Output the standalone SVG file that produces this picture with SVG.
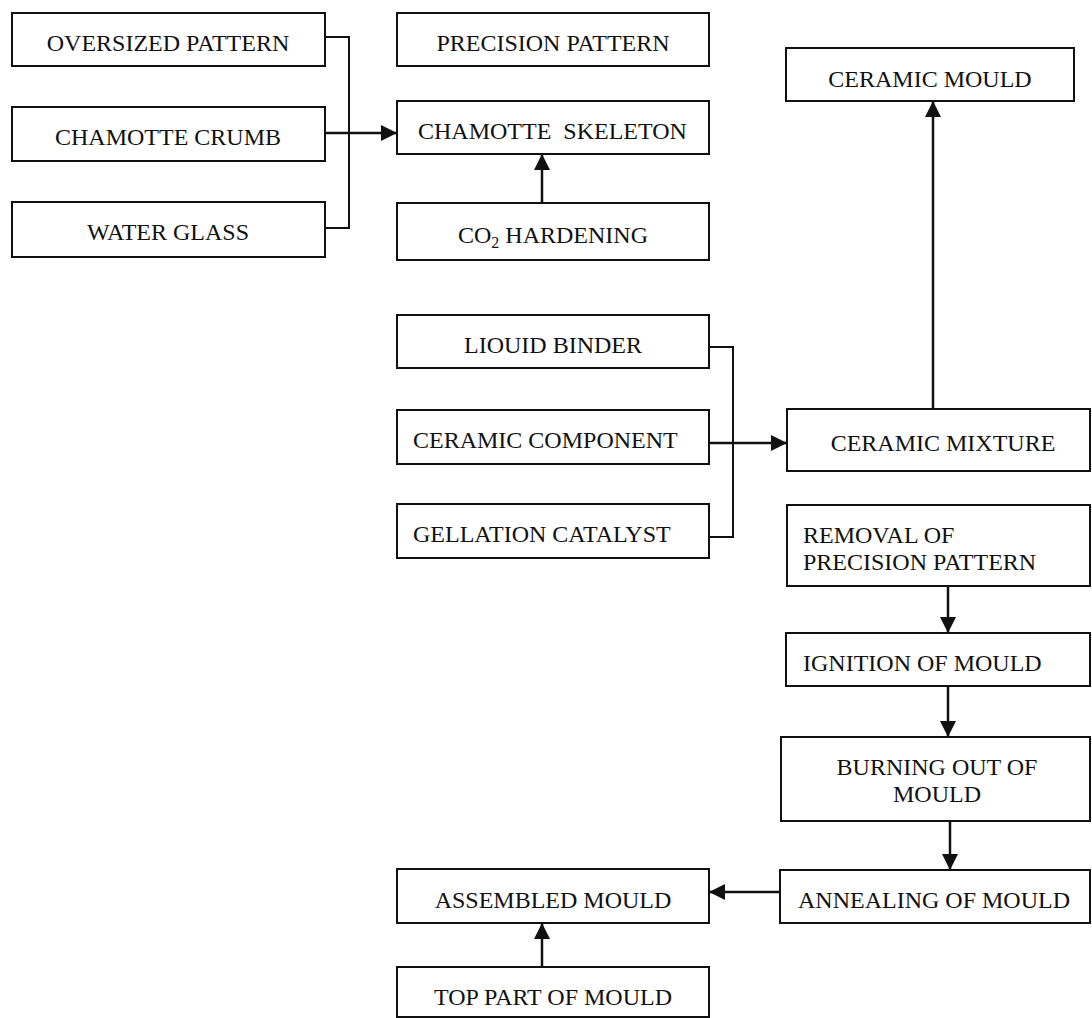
<svg xmlns="http://www.w3.org/2000/svg" width="1092" height="1018" viewBox="0 0 1092 1018">
<style>
  .box { fill: #fff; stroke: #111; stroke-width: 2; }
  .t { font-family: "Liberation Serif", "Times New Roman", serif; font-size: 24px; fill: #111; }
  .c { text-anchor: middle; }
  .ln { fill: none; stroke: #111; stroke-width: 2; }
  .ar { fill: none; stroke: #111; stroke-width: 2.5; marker-end: url(#ah); }
</style>
<defs>
  <marker id="ah" markerUnits="userSpaceOnUse" markerWidth="16" markerHeight="16" refX="15" refY="8" orient="auto">
    <path d="M0,0 L16,8 L0,16 z" fill="#111"/>
  </marker>
</defs>
<rect width="1092" height="1018" fill="#fff"/>

<g id="connectors">
  <path class="ln" d="M325,37 H349 V228 H325"/>
  <path class="ar" d="M325,133 H396"/>
  <path class="ar" d="M542,203 V155"/>
  <path class="ln" d="M709,347 H733 V537 H709"/>
  <path class="ar" d="M709,443 H786"/>
  <path class="ar" d="M933,409 V102"/>
  <path class="ar" d="M948,586 V632"/>
  <path class="ar" d="M948,686 V736"/>
  <path class="ar" d="M950,821 V869"/>
  <path class="ar" d="M780,892 H710"/>
  <path class="ar" d="M542,967 V924"/>
</g>

<g id="oversized-pattern">
  <rect class="box" x="12" y="13" width="313" height="53"/>
  <text class="t c" x="168" y="51">OVERSIZED PATTERN</text>
</g>
<g id="chamotte-crumb">
  <rect class="box" x="12" y="107" width="313" height="54"/>
  <text class="t c" x="168" y="145">CHAMOTTE CRUMB</text>
</g>
<g id="water-glass">
  <rect class="box" x="12" y="202" width="313" height="55"/>
  <text class="t c" x="168" y="240">WATER GLASS</text>
</g>

<g id="precision-pattern">
  <rect class="box" x="397" y="13" width="312" height="53"/>
  <text class="t c" x="553" y="51">PRECISION PATTERN</text>
</g>
<g id="chamotte-skeleton">
  <rect class="box" x="397" y="101" width="312" height="53"/>
  <text class="t" x="418" y="139" xml:space="preserve">CHAMOTTE  SKELETON</text>
</g>
<g id="co2-hardening">
  <rect class="box" x="397" y="203" width="312" height="57"/>
  <text class="t c" x="553" y="243">CO<tspan font-size="16" dy="5">2</tspan><tspan dy="-5"> HARDENING</tspan></text>
</g>

<g id="ceramic-mould">
  <rect class="box" x="786" y="48" width="288" height="53"/>
  <text class="t c" x="930" y="87">CERAMIC MOULD</text>
</g>

<g id="liquid-binder">
  <rect class="box" x="397" y="315" width="312" height="53"/>
  <text class="t c" x="553" y="353">LIOUID BINDER</text>
</g>
<g id="ceramic-component">
  <rect class="box" x="397" y="410" width="312" height="54"/>
  <text class="t" x="413" y="448">CERAMIC COMPONENT</text>
</g>
<g id="gellation-catalyst">
  <rect class="box" x="397" y="504" width="312" height="54"/>
  <text class="t" x="413" y="542">GELLATION CATALYST</text>
</g>

<g id="ceramic-mixture">
  <rect class="box" x="787" y="409" width="303" height="62"/>
  <text class="t c" x="943" y="451">CERAMIC MIXTURE</text>
</g>
<g id="removal-of-precision-pattern">
  <rect class="box" x="787" y="505" width="303" height="81"/>
  <text class="t" x="803" y="543">REMOVAL OF</text>
  <text class="t" x="803" y="570">PRECISION PATTERN</text>
</g>
<g id="ignition-of-mould">
  <rect class="box" x="786" y="633" width="304" height="53"/>
  <text class="t" x="803" y="671">IGNITION OF MOULD</text>
</g>
<g id="burning-out-of-mould">
  <rect class="box" x="781" y="737" width="309" height="84"/>
  <text class="t c" x="937" y="775">BURNING OUT OF</text>
  <text class="t c" x="937" y="802">MOULD</text>
</g>
<g id="annealing-of-mould">
  <rect class="box" x="780" y="870" width="310" height="53"/>
  <text class="t" x="798" y="908">ANNEALING OF MOULD</text>
</g>

<g id="assembled-mould">
  <rect class="box" x="397" y="869" width="312" height="54"/>
  <text class="t c" x="553" y="908">ASSEMBLED MOULD</text>
</g>
<g id="top-part-of-mould">
  <rect class="box" x="397" y="967" width="312" height="50"/>
  <text class="t c" x="553" y="1005">TOP PART OF MOULD</text>
</g>
</svg>
